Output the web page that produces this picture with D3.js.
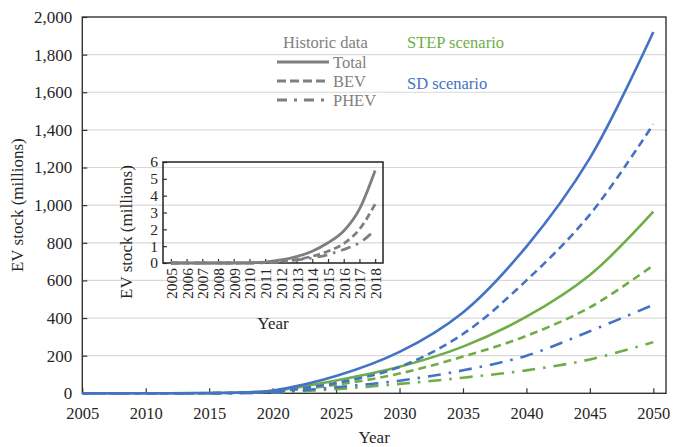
<!DOCTYPE html>
<html><head><meta charset="utf-8">
<script src="https://cdn.jsdelivr.net/npm/d3@7"></script>
<style>
html,body{margin:0;padding:0;background:#fff;}
svg{display:block;}
text{font-family:"Liberation Serif","DejaVu Serif",serif;}
</style></head>
<body><svg id="c" width="679" height="447" font-family="Liberation Serif, DejaVu Serif, serif"></svg>
<script>
// ---- data ----
const years = [2005, 2010, 2015, 2018, 2020, 2025, 2030, 2035, 2040, 2045, 2050];
const sdTotal   = [0, 0.02, 1.2, 5.5, 15, 92, 220, 430, 780, 1250, 1920];
const sdBEV     = [0, 0.01, 0.7, 3.5, 10, 55, 140, 315, 600, 950, 1430];
const sdPHEV    = [0, 0.01, 0.5, 1.95, 5, 32, 67, 122, 200, 330, 470];
const stepTotal = [0, 0.02, 1.2, 5.5, 12, 68, 141, 248, 407, 629, 965];
const stepBEV   = [0, 0.01, 0.7, 3.5, 8, 45, 105, 195, 305, 457, 680];
const stepPHEV  = [0, 0.01, 0.5, 1.95, 4, 22, 50, 83, 122, 180, 272];

const histYears = [2005,2006,2007,2008,2009,2010,2011,2012,2013,2014,2015,2016,2017,2018];
const histTotal = [0,0,0,0,0,0.01,0.05,0.18,0.38,0.7,1.2,1.9,3.2,5.5];
const histBEV   = [0,0,0,0,0,0.01,0.04,0.11,0.2,0.4,0.7,1.15,2.0,3.5];
const histPHEV  = [0,0,0,0,0,0,0.01,0.07,0.18,0.3,0.5,0.8,1.2,1.95];

const xTicks = [2005, 2010, 2015, 2020, 2025, 2030, 2035, 2040, 2045, 2050];
const yTicks = [0, 200, 400, 600, 800, 1000, 1200, 1400, 1600, 1800, 2000];
const insetYTicks = [0, 1, 2, 3, 4, 5, 6];

// ---- styles ----
const BLUE = "#4472c4", GREEN = "#70ad47", GRAY = "#7f7f7f", TXT = "#262626";
const DASH = "8,5", DASHDOT = "13,8,2.5,8";
const FONT = "Liberation Serif, DejaVu Serif, serif";

const svg = d3.select("#c");
const L = 82.3, R = 666, T = 17, B = 393.3;
const x = d3.scaleLinear().domain([2005, 2051]).range([L, R]);
const y = d3.scaleLinear().domain([0, 2000]).range([B, T]);

// gridlines
svg.append("g").selectAll("line").data(yTicks.filter(v => v > 0 && v < 2000)).join("line")
  .attr("x1", L).attr("x2", R).attr("y1", d => y(d)).attr("y2", d => y(d))
  .attr("stroke", "#d9d9d9").attr("stroke-width", 1.2);

function styleAxis(g, fs) {
  g.attr("font-family", FONT).attr("font-size", fs);
  g.select(".domain").remove();
  g.selectAll("line").attr("stroke", "#333").attr("stroke-width", 1.2);
  g.selectAll("text").attr("font-size", fs).attr("fill", TXT).attr("font-family", FONT);
}

// axes
const ax = svg.append("g").attr("transform", `translate(0,${B})`)
  .call(d3.axisBottom(x).tickValues(xTicks).tickFormat(d3.format("d")).tickSize(-5).tickPadding(14));
const ay = svg.append("g").attr("transform", `translate(${L},0)`)
  .call(d3.axisLeft(y).tickValues(yTicks).tickFormat(d3.format(",")).tickSize(-5).tickPadding(10));
styleAxis(ax, 16.5); styleAxis(ay, 17);
// border box
svg.append("rect").attr("x", L).attr("y", T).attr("width", R - L).attr("height", B - T)
  .attr("fill", "none").attr("stroke", "#333").attr("stroke-width", 1.4);

function txt(g, xx, yy, s, fs, col, anchor) {
  return g.append("text").attr("x", xx).attr("y", yy).attr("font-size", fs).attr("fill", col)
    .attr("font-family", FONT).attr("text-anchor", anchor || "start").text(s);
}
// axis titles
txt(svg, (L + R) / 2, 443, "Year", 17, TXT, "middle");
txt(svg, 0, 0, "EV stock (millions)", 17, TXT, "middle")
  .attr("transform", `translate(23,${(T + B) / 2}) rotate(-90)`);

// main lines
const line = d3.line().x(d => x(d[0])).y(d => y(d[1])).curve(d3.curveCatmullRom.alpha(0.5));
const series = [
  {v: stepPHEV, c: GREEN, d: DASHDOT}, {v: stepBEV, c: GREEN, d: DASH}, {v: stepTotal, c: GREEN, d: null},
  {v: sdPHEV, c: BLUE, d: DASHDOT}, {v: sdBEV, c: BLUE, d: DASH}, {v: sdTotal, c: BLUE, d: null}
];
series.forEach(s => {
  svg.append("path").datum(years.map((yr, i) => [yr, s.v[i]]))
    .attr("d", line).attr("fill", "none").attr("stroke", s.c).attr("stroke-width", 2.6)
    .attr("stroke-dasharray", s.d);
});

// legend
const lg = svg.append("g");
txt(lg, 283, 48, "Historic data", 16.5, "#808080");
txt(lg, 407, 48, "STEP scenario", 16.5, GREEN);
txt(lg, 407, 89, "SD scenario", 16.5, BLUE);
const legItems = [["Total", null, 62], ["BEV", "9,4", 81], ["PHEV", "10,7,3,7", 100]];
legItems.forEach(([lab, dash, yy]) => {
  lg.append("line").attr("x1", 277).attr("x2", 329).attr("y1", yy).attr("y2", yy)
    .attr("stroke", GRAY).attr("stroke-width", 3).attr("stroke-dasharray", dash);
  txt(lg, 333, yy + 6, lab, 16.5, "#808080");
});

// ---- inset ----
const iL = 163, iR = 383, iT = 162, iB = 263;
const ix = d3.scalePoint().domain(histYears).range([iL, iR]).padding(0.5);
const iy = d3.scaleLinear().domain([0, 6]).range([iB, iT]);
const ig = svg.append("g");
const iax = ig.append("g").attr("transform", `translate(0,${iB})`)
  .call(d3.axisBottom(ix).tickFormat(d3.format("d")).tickSize(-4).tickPadding(4));
iax.selectAll("text").attr("transform", "rotate(-90)").attr("text-anchor", "end")
  .attr("x", -5).attr("y", 0).attr("dy", "0.35em");
const iay = ig.append("g").attr("transform", `translate(${iL},0)`)
  .call(d3.axisLeft(iy).tickValues(insetYTicks).tickFormat(d3.format("d")).tickSize(-4).tickPadding(5));
styleAxis(iax, 15.5); styleAxis(iay, 15.5);
ig.append("rect").attr("x", iL).attr("y", iT).attr("width", iR - iL).attr("height", iB - iT)
  .attr("fill", "none").attr("stroke", "#222").attr("stroke-width", 1.5);
const iline = d3.line().x(d => ix(d[0])).y(d => iy(d[1])).curve(d3.curveMonotoneX);
[[histPHEV, "10,6,2.5,6"], [histBEV, "7,4"], [histTotal, null]].forEach(([v, dsh]) => {
  ig.append("path").datum(histYears.map((yr, i) => [yr, v[i]])).attr("d", iline)
    .attr("fill", "none").attr("stroke", GRAY).attr("stroke-width", 2.8).attr("stroke-dasharray", dsh);
});
txt(ig, (iL + iR) / 2, 329, "Year", 17, TXT, "middle");
txt(ig, 0, 0, "EV stock (millions)", 17, TXT, "middle").attr("transform", `translate(132,232) rotate(-90)`);
</script></body></html>
